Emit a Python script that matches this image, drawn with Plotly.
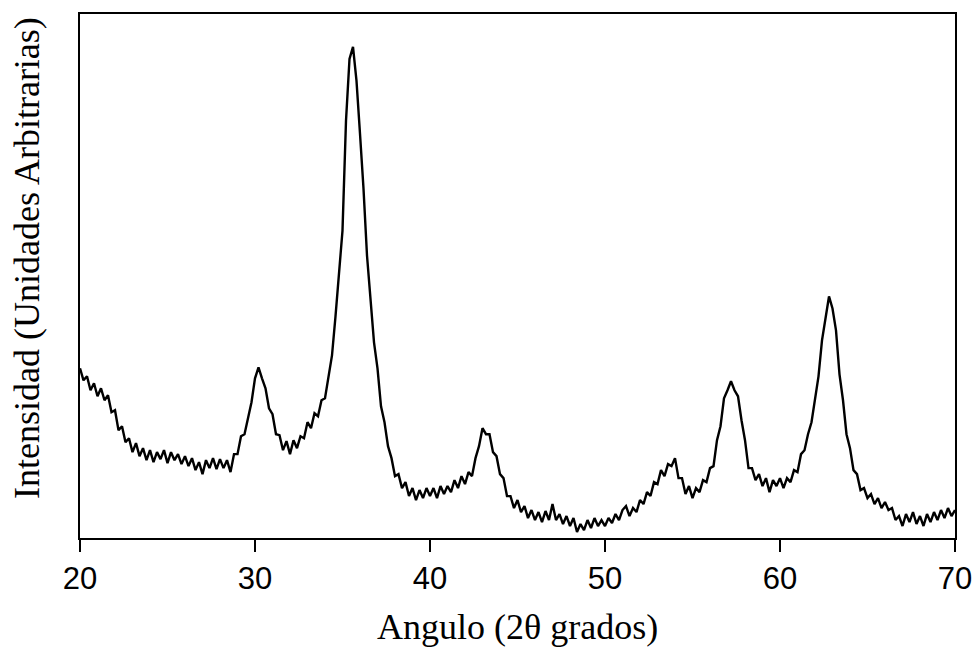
import numpy as np
import plotly.graph_objects as go

# 2-theta angles (degrees), 0.2 deg step from 20 to 70
angle_start = 20.0
angle_step = 0.2
intensity = [
    170, 158, 162, 148, 155,
    142, 150, 138, 143, 126,
    128, 108, 112, 96, 100,
    86, 95, 82, 90, 78,
    88, 76, 86, 79, 88,
    75, 86, 78, 84, 74,
    82, 72, 80, 68, 76,
    64, 78, 70, 80, 69,
    79, 70, 78, 66, 84,
    84, 102, 104, 120, 136,
    160, 171, 160, 150, 130,
    124, 104, 103, 88, 97,
    84, 98, 90, 102, 100,
    116, 110, 125, 122, 138,
    140, 162, 183, 222, 262,
    308, 418, 480, 492, 458,
    405, 350, 283, 242, 196,
    170, 132, 116, 92, 80,
    62, 64, 50, 56, 42,
    50, 38, 48, 40, 50,
    42, 50, 40, 52, 44,
    52, 46, 58, 50, 62,
    54, 66, 62, 80, 92,
    110, 104, 104, 86, 82,
    64, 60, 42, 42, 30,
    38, 26, 32, 20, 28,
    18, 26, 16, 27, 18,
    34, 18, 24, 14, 22,
    12, 20, 6, 14, 8,
    18, 10, 20, 12, 18,
    12, 20, 15, 24, 18,
    28, 32, 22, 30, 26,
    38, 34, 46, 42, 56,
    54, 68, 62, 74, 72,
    80, 60, 60, 44, 52,
    40, 50, 46, 58, 56,
    70, 72, 98, 112, 140,
    148, 157, 148, 142, 118,
    98, 70, 70, 58, 64,
    52, 60, 46, 58, 52,
    60, 50, 60, 56, 68,
    66, 84, 88, 104, 116,
    138, 162, 198, 220, 242,
    230, 208, 164, 138, 104,
    90, 68, 64, 48, 50,
    40, 44, 34, 40, 30,
    36, 28, 30, 18, 22,
    12, 24, 16, 26, 14,
    22, 12, 24, 16, 26,
    18, 28, 20, 30, 22,
    28,
]
angles = np.round(angle_start + angle_step * np.arange(len(intensity)), 2)

x_ticks = [20, 30, 40, 50, 60, 70]
x_title = "Angulo (2θ grados)"
y_title = "Intensidad (Unidades Arbitrarias)"

fig = go.Figure()
fig.add_trace(go.Scatter(
    x=angles, y=intensity, mode="lines",
    line=dict(color="black", width=2.4),
    showlegend=False, hoverinfo="skip",
))

fig.update_layout(
    width=974, height=647,
    margin=dict(l=80, r=19, t=14, b=109),
    paper_bgcolor="white", plot_bgcolor="white",
    xaxis=dict(
        range=[20, 70], tickvals=x_ticks, ticktext=[str(t) for t in x_ticks],
        ticks="outside", ticklen=12, tickwidth=1.5, tickcolor="black",
        showline=True, linecolor="black", linewidth=1.5, mirror=True,
        showgrid=False, zeroline=False, automargin=False,
        tickfont=dict(family="Liberation Sans, Arial, sans-serif", size=31, color="black"),
    ),
    yaxis=dict(
        range=[0, 525], showticklabels=False, ticks="",
        showline=True, linecolor="black", linewidth=1.5, mirror=True,
        showgrid=False, zeroline=False, automargin=False,
    ),
    annotations=[
        dict(text=x_title, xref="paper", yref="paper", x=0.5, y=0,
             yshift=-89, yanchor="middle", xanchor="center", showarrow=False,
             font=dict(family="Liberation Serif, Times New Roman, serif", size=36, color="black")),
        dict(text=y_title, xref="paper", yref="paper", x=0, y=0.5,
             xshift=-53, yshift=18, xanchor="center", yanchor="middle", textangle=-90, showarrow=False,
             font=dict(family="Liberation Serif, Times New Roman, serif", size=36, color="black")),
    ],
)

fig.write_html(
    "out.html",
    config={"displayModeBar": False},
    post_script="document.body.style.margin='0';document.body.style.overflow='hidden';",
)
